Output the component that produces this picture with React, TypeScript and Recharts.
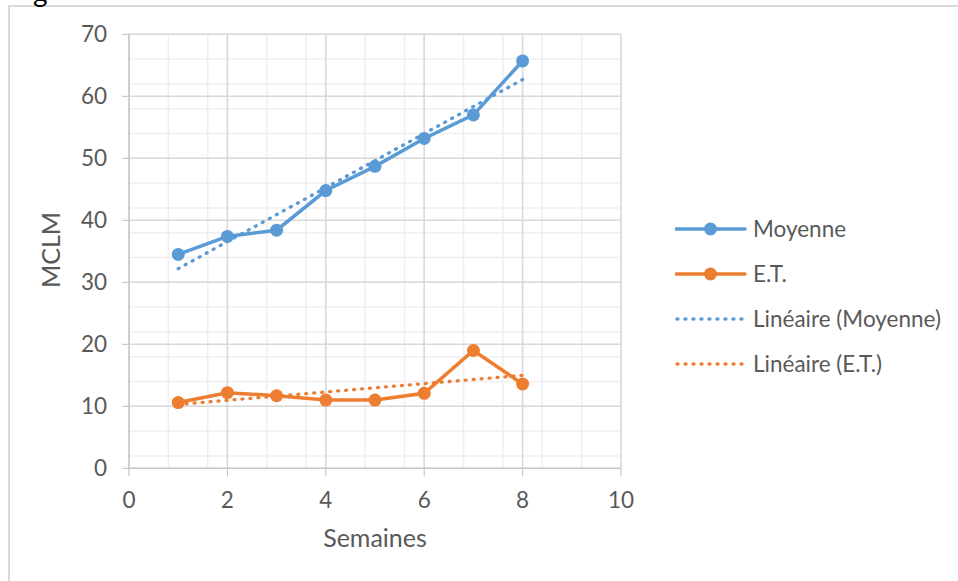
import React from 'react';
import { LineChart, Line, XAxis, YAxis, CartesianGrid } from 'recharts';

// semaines et valeurs
const weeks = [1, 2, 3, 4, 5, 6, 7, 8];
const moyenne = [34.5, 37.4, 38.4, 44.8, 48.7, 53.2, 57.0, 65.7];
const ecartType = [10.6, 12.2, 11.7, 11.0, 11.0, 12.1, 19.0, 13.6];

// droites de tendance (extrémités)
const trendWeeks = [1, 8];
const trendMoyenne = [32.2, 62.7];
const trendEcartType = [10.3, 15.0];

const xTicks = [0, 2, 4, 6, 8, 10];
const yTicks = [0, 10, 20, 30, 40, 50, 60, 70];
const xMinor = Array.from({ length: 26 }, (_, i) => +(i * 0.4).toFixed(1));
const yMinor = Array.from({ length: 36 }, (_, i) => i * 2);

const BLUE = '#5B9BD5';
const ORANGE = '#ED7D31';
const TEXT = '#595959';
const FONT = 'Lato, "Open Sans", sans-serif';

const toPoints = (xs: number[], ys: number[]) => xs.map((x, i) => ({ x, y: ys[i] }));

const legendItems = [
  { name: 'Moyenne', color: BLUE, dotted: false },
  { name: 'E.T.', color: ORANGE, dotted: false },
  { name: 'Linéaire (Moyenne)', color: BLUE, dotted: true },
  { name: 'Linéaire (E.T.)', color: ORANGE, dotted: true },
];

const ChartLegend = () => (
  <div style={{ position: 'absolute', left: 675, top: 206 }}>
    {legendItems.map((item) => (
      <div key={item.name} style={{ display: 'flex', alignItems: 'center', height: 45 }}>
        <svg width={72} height={20}>
          {item.dotted ? (
            <line x1={2} y1={10} x2={70} y2={10} stroke={item.color} strokeWidth={3.3}
              strokeDasharray="1 7" strokeLinecap="round" />
          ) : (
            <>
              <line x1={1} y1={10} x2={70} y2={10} stroke={item.color} strokeWidth={3.5} strokeLinecap="round" />
              <circle cx={35.5} cy={10} r={6.5} fill={item.color} />
            </>
          )}
        </svg>
        <span style={{ marginLeft: 6, fontSize: 22.5, color: TEXT, fontFamily: FONT, whiteSpace: 'nowrap' }}>
          {item.name}
        </span>
      </div>
    ))}
  </div>
);

export default function App() {
  const tickStyle = { fill: TEXT, fontSize: 22.5, fontFamily: FONT };
  return (
    <div style={{ position: 'absolute', left: 0, top: 0, width: 958, height: 581, overflow: 'hidden', background: '#fff' }}>
      <div style={{ position: 'absolute', left: 8, top: 5, width: 1000, height: 700, border: '2px solid #d9d9d9' }} />
      <span style={{ position: 'absolute', left: 33, top: -26, fontSize: 28, fontFamily: FONT, color: '#000' }}>g</span>
      <div style={{ position: 'absolute', left: 0, top: 0 }}>
        <LineChart width={958} height={581} margin={{ top: 34.3, right: 337, bottom: 52.7, left: 69 }}>
          <CartesianGrid stroke="#efefef" strokeWidth={1.5} verticalValues={xMinor} horizontalValues={yMinor} />
          <CartesianGrid stroke="#d9d9d9" strokeWidth={1.5} verticalValues={xTicks} horizontalValues={yTicks} />
          <XAxis
            type="number"
            dataKey="x"
            domain={[0, 10]}
            ticks={xTicks}
            height={60}
            stroke="#bfbfbf"
            tickSize={8}
            tickMargin={16}
            tick={tickStyle}
            label={{
              content: () => (
                <text x={375} y={547} textAnchor="middle" fill={TEXT} fontSize={25} fontFamily={FONT}>
                  Semaines
                </text>
              ),
            }}
          />
          <YAxis
            type="number"
            domain={[0, 70]}
            ticks={yTicks}
            width={60}
            stroke="#bfbfbf"
            tickSize={7}
            tickMargin={15}
            tick={tickStyle}
            label={{
              content: () => (
                <text x={60} y={250} transform="rotate(-90 60 250)" textAnchor="middle" fill={TEXT} fontSize={25} fontFamily={FONT}>
                  MCLM
                </text>
              ),
            }}
          />
          <Line data={toPoints(trendWeeks, trendMoyenne)} dataKey="y" stroke={BLUE} strokeWidth={3.3}
            strokeDasharray="1 7" strokeLinecap="round" dot={false} isAnimationActive={false} />
          <Line data={toPoints(trendWeeks, trendEcartType)} dataKey="y" stroke={ORANGE} strokeWidth={3.3}
            strokeDasharray="1 7" strokeLinecap="round" dot={false} isAnimationActive={false} />
          <Line data={toPoints(weeks, moyenne)} dataKey="y" stroke={BLUE} strokeWidth={3.5}
            dot={{ r: 6.5, fill: BLUE, stroke: BLUE, strokeWidth: 0 }} isAnimationActive={false} />
          <Line data={toPoints(weeks, ecartType)} dataKey="y" stroke={ORANGE} strokeWidth={3.5}
            dot={{ r: 6.5, fill: ORANGE, stroke: ORANGE, strokeWidth: 0 }} isAnimationActive={false} />
        </LineChart>
      </div>
      <ChartLegend />
    </div>
  );
}
